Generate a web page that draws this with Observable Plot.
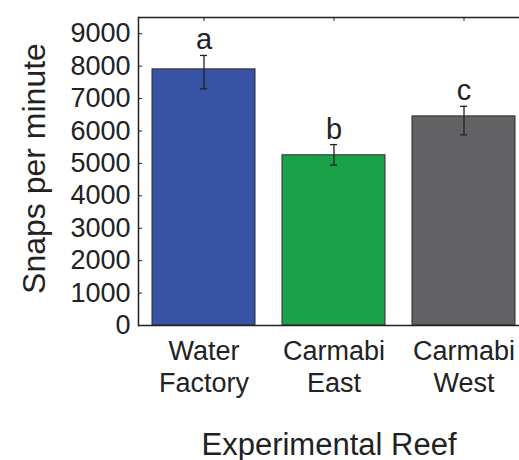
<!DOCTYPE html>
<html><head><meta charset="utf-8">
<script src="https://cdn.jsdelivr.net/npm/d3@7"></script>
<script src="https://cdn.jsdelivr.net/npm/@observablehq/plot@0.6"></script>
<style>body{margin:0;background:#fff} svg{font-family:"Liberation Sans",Arial,sans-serif}</style>
</head><body><div id="chart"></div>
<script>
const sites = ["Water\nFactory", "Carmabi\nEast", "Carmabi\nWest"];
const snaps = [7900, 5250, 6450];
const errLow = [7300, 4950, 5880];
const errHigh = [8330, 5580, 6760];
const letters = ["a", "b", "c"];
const barColors = ["#3953a4", "#1ba14a", "#636365"];
const yTicks = [0, 1000, 2000, 3000, 4000, 5000, 6000, 7000, 8000, 9000];

const data = sites.map((s, i) => ({site: s, snaps: snaps[i], lo: errLow[i], hi: errHigh[i], letter: letters[i], color: barColors[i]}));
const ink = "#222";

const chart = Plot.plot({
  width: 519, height: 460,
  marginLeft: 138, marginRight: 0, marginTop: 17, marginBottom: 135,
  style: {fontFamily: '"Liberation Sans", Arial, sans-serif', background: "white", color: ink},
  x: {type: "band", domain: sites, range: [138, 528], paddingInner: 0.21, paddingOuter: 0.105, label: null},
  y: {domain: [0, 9500], label: null},
  marks: [
    Plot.barY(data, {x: "site", y: "snaps", fill: "color", stroke: "#2a2a2a", strokeWidth: 1}),
    Plot.ruleX(data, {x: "site", y1: "lo", y2: "hi", stroke: ink, strokeWidth: 1.3}),
    Plot.tickY(data, {x: "site", y: "lo", insetLeft: 48, insetRight: 48, stroke: ink, strokeWidth: 1.3}),
    Plot.tickY(data, {x: "site", y: "hi", insetLeft: 48, insetRight: 48, stroke: ink, strokeWidth: 1.3}),
    Plot.text(data, {x: "site", y: "hi", text: "letter", lineAnchor: "bottom", dy: -6, fontSize: 29, fill: ink}),
    Plot.axisY({ticks: yTicks, tickFormat: d3.format("d"), tickSize: -4, tickPadding: 12, fontSize: 27, label: null}),
    Plot.axisX({anchor: "top", tickSize: -3, tickFormat: () => "", label: null}),
    Plot.axisX({anchor: "bottom", tickSize: 0, tickPadding: 12, fontSize: 27, lineHeight: 1.185, label: null}),
    Plot.ruleY([0, 9500], {stroke: ink, strokeWidth: 1.5}),
    Plot.frame({anchor: "left", stroke: ink, strokeWidth: 1.5}),
    Plot.text(["Snaps per minute"], {text: d => d, frameAnchor: "left", textAnchor: "middle", rotate: -90, dx: -94, dy: -3, lineAnchor: "bottom", fontSize: 32, fill: ink}),
    Plot.text(["Experimental Reef"], {text: d => d, frameAnchor: "bottom", textAnchor: "middle", dy: 129, lineAnchor: "bottom", fontSize: 31, fill: ink})
  ]
});
document.getElementById("chart").appendChild(chart);
</script>
</body></html>
